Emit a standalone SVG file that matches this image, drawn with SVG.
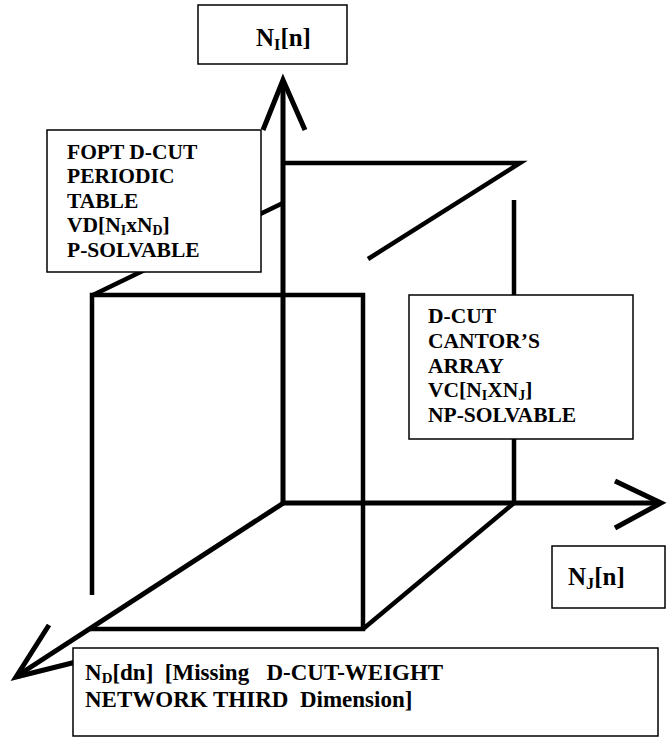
<svg xmlns="http://www.w3.org/2000/svg" width="669" height="738" viewBox="0 0 669 738">
<style>
.ax{fill:none;stroke:#000;stroke-width:5;stroke-linecap:butt;stroke-linejoin:miter}
.ln{fill:none;stroke:#000;stroke-width:4.5;stroke-linecap:butt;stroke-linejoin:miter}
.box{fill:#fff;stroke:#000;stroke-width:1.5}
.t{font-family:"Liberation Serif","Times New Roman",serif;font-weight:bold;font-size:21.5px;fill:#000}
.big{font-size:25px}
.mid{font-size:23px}
.sub{font-size:65%}
</style>
<rect width="669" height="738" fill="#fff"/>
<g id="connectors">
  <line class="ax" x1="283" y1="82" x2="283" y2="505"/>
  <polyline class="ax" points="263,130 283,80 305,130"/>
  <line class="ax" x1="281" y1="503" x2="660" y2="503"/>
  <polyline class="ax" points="615,481 661,503 615,528"/>
  <line class="ax" x1="285" y1="502" x2="17" y2="676"/>
  <polyline class="ax" points="49,625 16,677 80,661"/>
  <polyline class="ln" points="285,163 520,163 368,259"/>
  <line class="ln" x1="514" y1="200" x2="514" y2="503"/>
  <line class="ln" x1="93" y1="295" x2="283" y2="203"/>
  <polyline class="ln" points="92,595 92,295 363,295 363,629 89,629"/>
  <line class="ln" x1="363" y1="629" x2="514" y2="503"/>
</g>
<g id="node-ni">
  <rect class="box" x="198" y="5" width="149" height="59"/>
  <text class="t big" x="256" y="46">N<tspan class="sub" dy="4">I</tspan><tspan dy="-4">[n]</tspan></text>
</g>
<g id="node-fopt">
  <rect class="box" x="47" y="130" width="214" height="142"/>
  <text class="t" x="67" y="159">FOPT D-CUT</text>
  <text class="t" x="67" y="183">PERIODIC</text>
  <text class="t" x="67" y="208">TABLE</text>
  <text class="t" x="67" y="232">VD[N<tspan class="sub" dy="3">I</tspan><tspan dy="-3">xN</tspan><tspan class="sub" dy="3">D</tspan><tspan dy="-3">]</tspan></text>
  <text class="t" x="67" y="257">P-SOLVABLE</text>
</g>
<g id="node-dcut">
  <rect class="box" x="409" y="295" width="224" height="144"/>
  <text class="t" x="428" y="323">D-CUT</text>
  <text class="t" x="428" y="348">CANTOR’S</text>
  <text class="t" x="428" y="373">ARRAY</text>
  <text class="t" x="428" y="397">VC[N<tspan class="sub" dy="3">I</tspan><tspan dy="-3">XN</tspan><tspan class="sub" dy="3">J</tspan><tspan dy="-3">]</tspan></text>
  <text class="t" x="428" y="422">NP-SOLVABLE</text>
</g>
<g id="node-nj">
  <rect class="box" x="552" y="546" width="113" height="62"/>
  <text class="t big" x="568" y="585">N<tspan class="sub" dy="4">J</tspan><tspan dy="-4">[n]</tspan></text>
</g>
<g id="node-nd">
  <rect class="box" x="73" y="648" width="585" height="88"/>
  <text class="t mid" x="85" y="680" xml:space="preserve">N<tspan class="sub" dy="3">D</tspan><tspan dy="-3">[dn]  [Missing   D-CUT-WEIGHT</tspan></text>
  <text class="t mid" x="85" y="707" xml:space="preserve">NETWORK THIRD  Dimension]</text>
</g>
</svg>
